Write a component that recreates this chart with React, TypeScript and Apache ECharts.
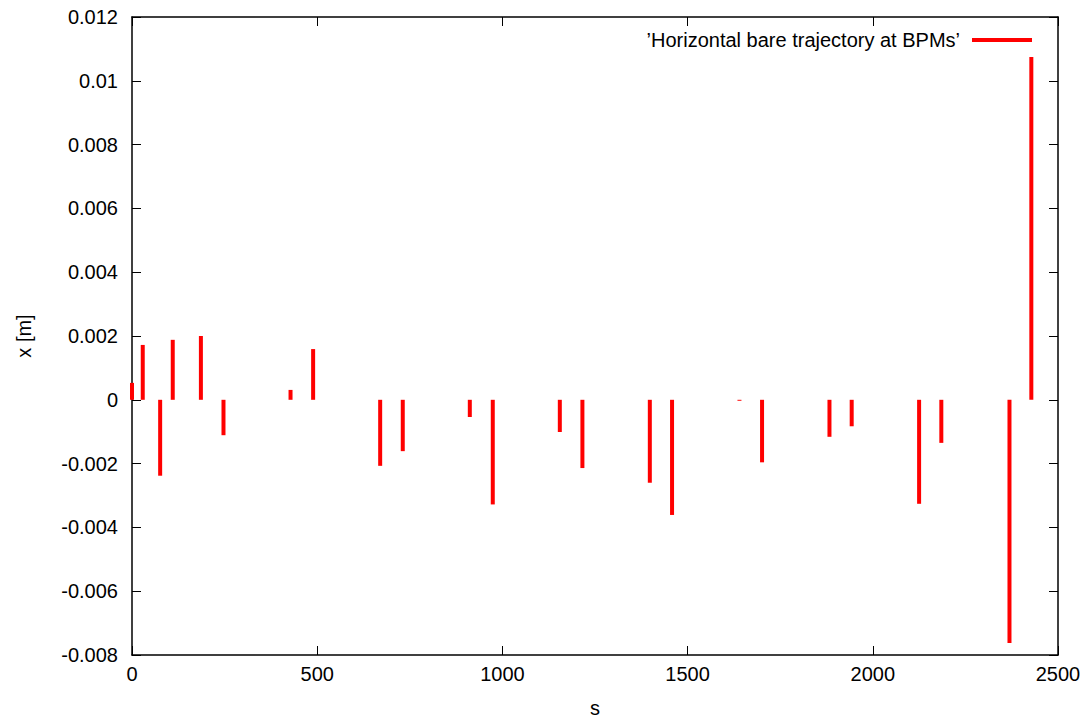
import React, { useEffect, useRef } from "react";
import * as echarts from "echarts";

const positions = [0, 29, 76, 110, 186, 247, 428, 489, 670, 731, 912, 974, 1155, 1216, 1398, 1458, 1640, 1701, 1883, 1943, 2125, 2185, 2369, 2428];
const values = [0.00053, 0.00172, -0.00238, 0.00188, 0.002, -0.00111, 0.00031, 0.00159, -0.00207, -0.00161, -0.00054, -0.00328, -0.00101, -0.00214, -0.0026, -0.00361, -0.00003, -0.00196, -0.00116, -0.00083, -0.00326, -0.00135, -0.00762, 0.01075];
const seriesName = "\u2019Horizontal bare trajectory at BPMs\u2019";
const xTicks = { min: 0, max: 2500, interval: 500 };
const yTicks = { min: -0.008, max: 0.012, interval: 0.002 };

const FONT = "Liberation Sans, Arial, sans-serif";
const FS = 20;

export default function App() {
  const ref = useRef<HTMLDivElement>(null);
  useEffect(() => {
    if (!ref.current) return;
    const chart = echarts.init(ref.current, null, { renderer: "svg" });
    const axisCommon = {
      axisLine: { show: true, onZero: false, lineStyle: { color: "#000", width: 1.5 } },
      axisTick: { show: true, inside: true, length: 9, lineStyle: { color: "#000", width: 1 } },
      splitLine: { show: false },
    };
    chart.setOption({
      animation: false,
      textStyle: { fontFamily: FONT },
      grid: { left: 132, right: 32, top: 17, bottom: 66 },
      legend: {
        right: 53,
        top: 25,
        align: "right",
        icon: "rect",
        itemWidth: 60,
        itemHeight: 4,
        textStyle: { fontSize: FS, color: "#000", fontFamily: FONT, padding: [0, 7, 0, 0] },
        data: [seriesName],
      },
      xAxis: [
        {
          type: "value",
          ...xTicks,
          ...axisCommon,
          name: "s",
          nameLocation: "middle",
          nameGap: 43,
          nameTextStyle: { fontSize: FS, color: "#000", fontFamily: FONT },
          axisLabel: { fontSize: FS, color: "#000", margin: 9, fontFamily: FONT, formatter: (v: number) => String(v) },
        },
        {
          type: "value",
          position: "top",
          ...xTicks,
          ...axisCommon,
          axisLabel: { show: false },
        },
      ],
      yAxis: [
        {
          type: "value",
          ...yTicks,
          ...axisCommon,
          name: "x [m]",
          nameLocation: "middle",
          nameGap: 98,
          nameTextStyle: { fontSize: FS, color: "#000", fontFamily: FONT },
          axisLabel: { fontSize: FS, color: "#000", margin: 14, fontFamily: FONT },
        },
        {
          type: "value",
          position: "right",
          ...yTicks,
          ...axisCommon,
          axisLabel: { show: false },
        },
      ],
      series: [
        {
          name: seriesName,
          type: "bar",
          xAxisIndex: 0,
          yAxisIndex: 0,
          barWidth: 4,
          clip: true,
          itemStyle: { color: "#ff0000" },
          data: positions.map((p, i) => [p, values[i]]),
        },
      ],
    });
    return () => chart.dispose();
  }, []);
  return (
    <div
      ref={ref}
      style={{ position: "fixed", left: 0, top: 0, width: 1090, height: 723, background: "#fff" }}
    />
  );
}
